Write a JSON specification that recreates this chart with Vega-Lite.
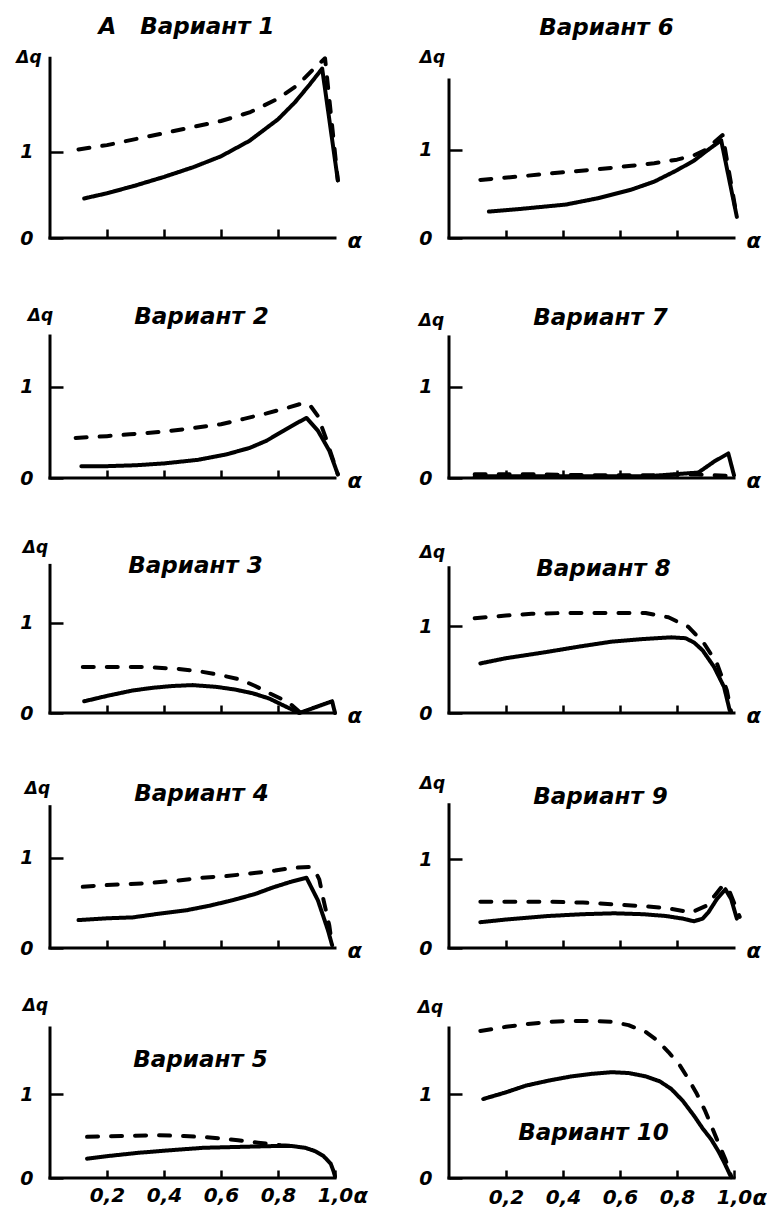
{
"$schema": "https://vega.github.io/schema/vega-lite/v6.json",
"background": "white",
"padding": {"left": 15, "top": 16, "right": 0, "bottom": 0},
"data": {"values": [
{"p":1,"s":"solid","x":0.12,"y":0.46},{"p":1,"s":"solid","x":0.2,"y":0.52},{"p":1,"s":"solid","x":0.3,"y":0.61},{"p":1,"s":"solid","x":0.4,"y":0.71},{"p":1,"s":"solid","x":0.5,"y":0.82},{"p":1,"s":"solid","x":0.6,"y":0.95},{"p":1,"s":"solid","x":0.7,"y":1.13},{"p":1,"s":"solid","x":0.8,"y":1.38},{"p":1,"s":"solid","x":0.86,"y":1.58},{"p":1,"s":"solid","x":0.91,"y":1.78},{"p":1,"s":"solid","x":0.955,"y":1.97},{"p":1,"s":"solid","x":1.01,"y":0.67},
{"p":1,"s":"dashed","x":0.1,"y":1.03},{"p":1,"s":"dashed","x":0.2,"y":1.08},{"p":1,"s":"dashed","x":0.3,"y":1.15},{"p":1,"s":"dashed","x":0.4,"y":1.22},{"p":1,"s":"dashed","x":0.5,"y":1.29},{"p":1,"s":"dashed","x":0.6,"y":1.36},{"p":1,"s":"dashed","x":0.7,"y":1.46},{"p":1,"s":"dashed","x":0.8,"y":1.62},{"p":1,"s":"dashed","x":0.87,"y":1.78},{"p":1,"s":"dashed","x":0.92,"y":1.95},{"p":1,"s":"dashed","x":0.965,"y":2.09},{"p":1,"s":"dashed","x":1.01,"y":0.67},
{"p":6,"s":"solid","x":0.14,"y":0.30},{"p":6,"s":"solid","x":0.25,"y":0.33},{"p":6,"s":"solid","x":0.41,"y":0.38},{"p":6,"s":"solid","x":0.52,"y":0.45},{"p":6,"s":"solid","x":0.64,"y":0.55},{"p":6,"s":"solid","x":0.72,"y":0.64},{"p":6,"s":"solid","x":0.8,"y":0.77},{"p":6,"s":"solid","x":0.86,"y":0.88},{"p":6,"s":"solid","x":0.9,"y":0.98},{"p":6,"s":"solid","x":0.955,"y":1.11},{"p":6,"s":"solid","x":1.01,"y":0.24},
{"p":6,"s":"dashed","x":0.11,"y":0.66},{"p":6,"s":"dashed","x":0.25,"y":0.70},{"p":6,"s":"dashed","x":0.41,"y":0.75},{"p":6,"s":"dashed","x":0.52,"y":0.78},{"p":6,"s":"dashed","x":0.64,"y":0.82},{"p":6,"s":"dashed","x":0.72,"y":0.85},{"p":6,"s":"dashed","x":0.8,"y":0.89},{"p":6,"s":"dashed","x":0.86,"y":0.94},{"p":6,"s":"dashed","x":0.9,"y":1.0},{"p":6,"s":"dashed","x":0.96,"y":1.17},{"p":6,"s":"dashed","x":1.01,"y":0.24},
{"p":2,"s":"solid","x":0.11,"y":0.13},{"p":2,"s":"solid","x":0.2,"y":0.13},{"p":2,"s":"solid","x":0.3,"y":0.14},{"p":2,"s":"solid","x":0.4,"y":0.16},{"p":2,"s":"solid","x":0.52,"y":0.20},{"p":2,"s":"solid","x":0.62,"y":0.26},{"p":2,"s":"solid","x":0.7,"y":0.33},{"p":2,"s":"solid","x":0.76,"y":0.41},{"p":2,"s":"solid","x":0.82,"y":0.52},{"p":2,"s":"solid","x":0.87,"y":0.61},{"p":2,"s":"solid","x":0.9,"y":0.66},{"p":2,"s":"solid","x":0.94,"y":0.52},{"p":2,"s":"solid","x":0.98,"y":0.30},{"p":2,"s":"solid","x":1.01,"y":0.04},
{"p":2,"s":"dashed","x":0.09,"y":0.44},{"p":2,"s":"dashed","x":0.2,"y":0.46},{"p":2,"s":"dashed","x":0.28,"y":0.48},{"p":2,"s":"dashed","x":0.4,"y":0.51},{"p":2,"s":"dashed","x":0.48,"y":0.54},{"p":2,"s":"dashed","x":0.6,"y":0.59},{"p":2,"s":"dashed","x":0.68,"y":0.65},{"p":2,"s":"dashed","x":0.76,"y":0.71},{"p":2,"s":"dashed","x":0.82,"y":0.76},{"p":2,"s":"dashed","x":0.875,"y":0.81},{"p":2,"s":"dashed","x":0.91,"y":0.81},{"p":2,"s":"dashed","x":0.94,"y":0.68},{"p":2,"s":"dashed","x":0.97,"y":0.42},{"p":2,"s":"dashed","x":1.01,"y":0.04},
{"p":7,"s":"solid","x":0.09,"y":0.02},{"p":7,"s":"solid","x":0.3,"y":0.02},{"p":7,"s":"solid","x":0.5,"y":0.02},{"p":7,"s":"solid","x":0.7,"y":0.02},{"p":7,"s":"solid","x":0.875,"y":0.06},{"p":7,"s":"solid","x":0.93,"y":0.18},{"p":7,"s":"solid","x":0.98,"y":0.27},{"p":7,"s":"solid","x":1.0,"y":0.03},
{"p":7,"s":"dashed","x":0.09,"y":0.04},{"p":7,"s":"dashed","x":0.3,"y":0.04},{"p":7,"s":"dashed","x":0.5,"y":0.03},{"p":7,"s":"dashed","x":0.7,"y":0.03},{"p":7,"s":"dashed","x":0.86,"y":0.04},{"p":7,"s":"dashed","x":1.0,"y":0.02},
{"p":3,"s":"solid","x":0.12,"y":0.13},{"p":3,"s":"solid","x":0.2,"y":0.19},{"p":3,"s":"solid","x":0.29,"y":0.25},{"p":3,"s":"solid","x":0.36,"y":0.28},{"p":3,"s":"solid","x":0.43,"y":0.30},{"p":3,"s":"solid","x":0.5,"y":0.31},{"p":3,"s":"solid","x":0.585,"y":0.29},{"p":3,"s":"solid","x":0.65,"y":0.26},{"p":3,"s":"solid","x":0.71,"y":0.22},{"p":3,"s":"solid","x":0.77,"y":0.16},{"p":3,"s":"solid","x":0.815,"y":0.09},{"p":3,"s":"solid","x":0.875,"y":0.0},{"p":3,"s":"solid","x":0.99,"y":0.13},{"p":3,"s":"solid","x":1.0,"y":0.0},
{"p":3,"s":"dashed","x":0.115,"y":0.51},{"p":3,"s":"dashed","x":0.2,"y":0.51},{"p":3,"s":"dashed","x":0.34,"y":0.51},{"p":3,"s":"dashed","x":0.45,"y":0.49},{"p":3,"s":"dashed","x":0.53,"y":0.46},{"p":3,"s":"dashed","x":0.6,"y":0.42},{"p":3,"s":"dashed","x":0.67,"y":0.37},{"p":3,"s":"dashed","x":0.72,"y":0.30},{"p":3,"s":"dashed","x":0.77,"y":0.22},{"p":3,"s":"dashed","x":0.81,"y":0.16},{"p":3,"s":"dashed","x":0.84,"y":0.11},{"p":3,"s":"dashed","x":0.88,"y":0.0},
{"p":8,"s":"solid","x":0.11,"y":0.57},{"p":8,"s":"solid","x":0.2,"y":0.63},{"p":8,"s":"solid","x":0.34,"y":0.70},{"p":8,"s":"solid","x":0.45,"y":0.76},{"p":8,"s":"solid","x":0.57,"y":0.82},{"p":8,"s":"solid","x":0.68,"y":0.85},{"p":8,"s":"solid","x":0.78,"y":0.87},{"p":8,"s":"solid","x":0.83,"y":0.86},{"p":8,"s":"solid","x":0.86,"y":0.81},{"p":8,"s":"solid","x":0.89,"y":0.72},{"p":8,"s":"solid","x":0.93,"y":0.53},{"p":8,"s":"solid","x":0.965,"y":0.30},{"p":8,"s":"solid","x":0.985,"y":0.03},
{"p":8,"s":"dashed","x":0.09,"y":1.09},{"p":8,"s":"dashed","x":0.2,"y":1.12},{"p":8,"s":"dashed","x":0.29,"y":1.14},{"p":8,"s":"dashed","x":0.4,"y":1.15},{"p":8,"s":"dashed","x":0.5,"y":1.15},{"p":8,"s":"dashed","x":0.6,"y":1.15},{"p":8,"s":"dashed","x":0.69,"y":1.15},{"p":8,"s":"dashed","x":0.77,"y":1.10},{"p":8,"s":"dashed","x":0.84,"y":0.99},{"p":8,"s":"dashed","x":0.895,"y":0.80},{"p":8,"s":"dashed","x":0.94,"y":0.57},{"p":8,"s":"dashed","x":0.975,"y":0.26},{"p":8,"s":"dashed","x":0.99,"y":0.01},
{"p":4,"s":"solid","x":0.1,"y":0.31},{"p":4,"s":"solid","x":0.2,"y":0.33},{"p":4,"s":"solid","x":0.29,"y":0.34},{"p":4,"s":"solid","x":0.38,"y":0.38},{"p":4,"s":"solid","x":0.48,"y":0.42},{"p":4,"s":"solid","x":0.56,"y":0.47},{"p":4,"s":"solid","x":0.64,"y":0.53},{"p":4,"s":"solid","x":0.72,"y":0.60},{"p":4,"s":"solid","x":0.78,"y":0.67},{"p":4,"s":"solid","x":0.85,"y":0.74},{"p":4,"s":"solid","x":0.9,"y":0.78},{"p":4,"s":"solid","x":0.94,"y":0.53},{"p":4,"s":"solid","x":0.975,"y":0.2},{"p":4,"s":"solid","x":0.99,"y":0.03},
{"p":4,"s":"dashed","x":0.115,"y":0.68},{"p":4,"s":"dashed","x":0.2,"y":0.70},{"p":4,"s":"dashed","x":0.34,"y":0.72},{"p":4,"s":"dashed","x":0.45,"y":0.75},{"p":4,"s":"dashed","x":0.53,"y":0.78},{"p":4,"s":"dashed","x":0.62,"y":0.80},{"p":4,"s":"dashed","x":0.71,"y":0.83},{"p":4,"s":"dashed","x":0.79,"y":0.86},{"p":4,"s":"dashed","x":0.85,"y":0.89},{"p":4,"s":"dashed","x":0.91,"y":0.90},{"p":4,"s":"dashed","x":0.93,"y":0.86},{"p":4,"s":"dashed","x":0.945,"y":0.76},{"p":4,"s":"dashed","x":0.96,"y":0.53},{"p":4,"s":"dashed","x":0.98,"y":0.25},{"p":4,"s":"dashed","x":0.99,"y":0.03},
{"p":9,"s":"solid","x":0.11,"y":0.29},{"p":9,"s":"solid","x":0.2,"y":0.32},{"p":9,"s":"solid","x":0.35,"y":0.36},{"p":9,"s":"solid","x":0.47,"y":0.38},{"p":9,"s":"solid","x":0.58,"y":0.39},{"p":9,"s":"solid","x":0.68,"y":0.38},{"p":9,"s":"solid","x":0.76,"y":0.36},{"p":9,"s":"solid","x":0.82,"y":0.33},{"p":9,"s":"solid","x":0.86,"y":0.30},{"p":9,"s":"solid","x":0.89,"y":0.33},{"p":9,"s":"solid","x":0.91,"y":0.40},{"p":9,"s":"solid","x":0.94,"y":0.55},{"p":9,"s":"solid","x":0.97,"y":0.66},{"p":9,"s":"solid","x":0.99,"y":0.55},{"p":9,"s":"solid","x":1.01,"y":0.33},
{"p":9,"s":"dashed","x":0.11,"y":0.52},{"p":9,"s":"dashed","x":0.2,"y":0.52},{"p":9,"s":"dashed","x":0.35,"y":0.52},{"p":9,"s":"dashed","x":0.47,"y":0.51},{"p":9,"s":"dashed","x":0.58,"y":0.49},{"p":9,"s":"dashed","x":0.68,"y":0.47},{"p":9,"s":"dashed","x":0.76,"y":0.45},{"p":9,"s":"dashed","x":0.85,"y":0.40},{"p":9,"s":"dashed","x":0.9,"y":0.47},{"p":9,"s":"dashed","x":0.93,"y":0.58},{"p":9,"s":"dashed","x":0.96,"y":0.70},{"p":9,"s":"dashed","x":0.985,"y":0.63},{"p":9,"s":"dashed","x":1.02,"y":0.35},
{"p":5,"s":"solid","x":0.13,"y":0.23},{"p":5,"s":"solid","x":0.2,"y":0.26},{"p":5,"s":"solid","x":0.31,"y":0.30},{"p":5,"s":"solid","x":0.42,"y":0.33},{"p":5,"s":"solid","x":0.54,"y":0.36},{"p":5,"s":"solid","x":0.66,"y":0.37},{"p":5,"s":"solid","x":0.78,"y":0.38},{"p":5,"s":"solid","x":0.85,"y":0.38},{"p":5,"s":"solid","x":0.895,"y":0.36},{"p":5,"s":"solid","x":0.93,"y":0.32},{"p":5,"s":"solid","x":0.96,"y":0.26},{"p":5,"s":"solid","x":0.985,"y":0.17},{"p":5,"s":"solid","x":0.995,"y":0.08},{"p":5,"s":"solid","x":1.0,"y":0.02},
{"p":5,"s":"dashed","x":0.13,"y":0.49},{"p":5,"s":"dashed","x":0.25,"y":0.50},{"p":5,"s":"dashed","x":0.37,"y":0.51},{"p":5,"s":"dashed","x":0.47,"y":0.50},{"p":5,"s":"dashed","x":0.57,"y":0.48},{"p":5,"s":"dashed","x":0.66,"y":0.45},{"p":5,"s":"dashed","x":0.73,"y":0.42},{"p":5,"s":"dashed","x":0.81,"y":0.39},{"p":5,"s":"dashed","x":0.87,"y":0.38},
{"p":10,"s":"solid","x":0.12,"y":0.94},{"p":10,"s":"solid","x":0.2,"y":1.02},{"p":10,"s":"solid","x":0.27,"y":1.10},{"p":10,"s":"solid","x":0.35,"y":1.16},{"p":10,"s":"solid","x":0.43,"y":1.21},{"p":10,"s":"solid","x":0.5,"y":1.24},{"p":10,"s":"solid","x":0.57,"y":1.26},{"p":10,"s":"solid","x":0.63,"y":1.25},{"p":10,"s":"solid","x":0.69,"y":1.21},{"p":10,"s":"solid","x":0.74,"y":1.15},{"p":10,"s":"solid","x":0.78,"y":1.06},{"p":10,"s":"solid","x":0.82,"y":0.92},{"p":10,"s":"solid","x":0.86,"y":0.74},{"p":10,"s":"solid","x":0.89,"y":0.59},{"p":10,"s":"solid","x":0.92,"y":0.46},{"p":10,"s":"solid","x":0.945,"y":0.32},{"p":10,"s":"solid","x":0.965,"y":0.19},{"p":10,"s":"solid","x":0.99,"y":0.01},
{"p":10,"s":"dashed","x":0.11,"y":1.75},{"p":10,"s":"dashed","x":0.2,"y":1.80},{"p":10,"s":"dashed","x":0.27,"y":1.83},{"p":10,"s":"dashed","x":0.35,"y":1.86},{"p":10,"s":"dashed","x":0.43,"y":1.87},{"p":10,"s":"dashed","x":0.5,"y":1.87},{"p":10,"s":"dashed","x":0.57,"y":1.86},{"p":10,"s":"dashed","x":0.63,"y":1.82},{"p":10,"s":"dashed","x":0.69,"y":1.74},{"p":10,"s":"dashed","x":0.73,"y":1.64},{"p":10,"s":"dashed","x":0.77,"y":1.50},{"p":10,"s":"dashed","x":0.81,"y":1.34},{"p":10,"s":"dashed","x":0.84,"y":1.18},{"p":10,"s":"dashed","x":0.87,"y":1.0},{"p":10,"s":"dashed","x":0.9,"y":0.79},{"p":10,"s":"dashed","x":0.94,"y":0.46},{"p":10,"s":"dashed","x":0.97,"y":0.22},{"p":10,"s":"dashed","x":0.99,"y":0.02}
]},
"columns": 2,
"spacing": {"row": 80, "column": 114},
"bounds": "flush",
"align": "each",
"concat": [
{"width":285,"height":180,"title":{"text":"А\u00a0\u00a0\u00a0Вариант 1","dx":-6,"dy":-5},
 "layer":[
  {"transform":[{"filter":"datum.p == 1"}],"mark":{"type":"line","color":"black","strokeWidth":4,"strokeCap":"round","strokeJoin":"round"},
   "encoding":{
    "x":{"field":"x","type":"quantitative","scale":{"domain":[0,1],"nice":false},"axis":{"values":[0.2,0.4,0.6,0.8],"labels":false,"domain":false,"offset":-9,"tickSize":9,"title":"α","titleX":297,"titleY":18,"titleAlign":"left","titleBaseline":"alphabetic","titleFontSize":21}},
    "y":{"field":"y","type":"quantitative","scale":{"domain":[0,2.093],"nice":false},"axis":{"values":[0,1],"format":"d","domain":false,"offset":-13,"tickSize":13,"labelPadding":17,"labelFontSize":19,"title":"Δq","titleAngle":0,"titleX":-34.5,"titleY":4,"titleAlign":"center","titleBaseline":"alphabetic","titleFontSize":17}},
    "strokeDash":{"field":"s","type":"nominal","scale":{"domain":["solid","dashed"],"range":[[1,0],[11,13]]},"legend":null}}},
  {"data":{"values":[{}]},"mark":{"type":"rule","color":"black","strokeWidth":3,"strokeCap":"square"},
   "encoding":{"x":{"datum":0},"y":{"datum":0},"y2":{"datum":2.09}}},
  {"data":{"values":[{}]},"mark":{"type":"rule","color":"black","strokeWidth":3,"strokeCap":"square"},
   "encoding":{"x":{"datum":0},"x2":{"datum":1},"y":{"datum":0}}}
 ]},
{"width":285,"height":180,"title":{"text":"Вариант 6","dx":15,"dy":-4},
 "layer":[
  {"transform":[{"filter":"datum.p == 6"}],"mark":{"type":"line","color":"black","strokeWidth":4,"strokeCap":"round","strokeJoin":"round"},
   "encoding":{
    "x":{"field":"x","type":"quantitative","scale":{"domain":[0,1],"nice":false},"axis":{"values":[0.2,0.4,0.6,0.8],"labels":false,"domain":false,"offset":-8,"tickSize":8,"title":"α","titleX":297,"titleY":17,"titleAlign":"left","titleBaseline":"alphabetic","titleFontSize":21}},
    "y":{"field":"y","type":"quantitative","scale":{"domain":[0,2.045],"nice":false},"axis":{"values":[0,1],"format":"d","domain":false,"offset":-13,"tickSize":13,"labelPadding":17,"labelFontSize":19,"title":"Δq","titleAngle":0,"titleX":-30,"titleY":4,"titleAlign":"center","titleBaseline":"alphabetic","titleFontSize":17}},
    "strokeDash":{"field":"s","type":"nominal","scale":{"domain":["solid","dashed"],"range":[[1,0],[11,13]]},"legend":null}}},
  {"data":{"values":[{}]},"mark":{"type":"rule","color":"black","strokeWidth":3,"strokeCap":"square"},
   "encoding":{"x":{"datum":0},"y":{"datum":0},"y2":{"datum":1.795}}},
  {"data":{"values":[{}]},"mark":{"type":"rule","color":"black","strokeWidth":3,"strokeCap":"square"},
   "encoding":{"x":{"datum":0},"x2":{"datum":1},"y":{"datum":0}}}
 ]},
{"width":285,"height":160,"title":{"text":"Вариант 2","dx":9,"dy":27},
 "layer":[
  {"transform":[{"filter":"datum.p == 2"}],"mark":{"type":"line","color":"black","strokeWidth":4,"strokeCap":"round","strokeJoin":"round"},
   "encoding":{
    "x":{"field":"x","type":"quantitative","scale":{"domain":[0,1],"nice":false},"axis":{"values":[0.2,0.4,0.6,0.8],"labels":false,"domain":false,"offset":-8,"tickSize":8,"title":"α","titleX":297,"titleY":17,"titleAlign":"left","titleBaseline":"alphabetic","titleFontSize":21}},
    "y":{"field":"y","type":"quantitative","scale":{"domain":[0,1.758],"nice":false},"axis":{"values":[0,1],"format":"d","domain":false,"offset":-13,"tickSize":13,"labelPadding":17,"labelFontSize":19,"title":"Δq","titleAngle":0,"titleX":-23,"titleY":2,"titleAlign":"center","titleBaseline":"alphabetic","titleFontSize":17}},
    "strokeDash":{"field":"s","type":"nominal","scale":{"domain":["solid","dashed"],"range":[[1,0],[11,13]]},"legend":null}}},
  {"data":{"values":[{}]},"mark":{"type":"rule","color":"black","strokeWidth":3,"strokeCap":"square"},
   "encoding":{"x":{"datum":0},"y":{"datum":0},"y2":{"datum":1.56}}},
  {"data":{"values":[{}]},"mark":{"type":"rule","color":"black","strokeWidth":3,"strokeCap":"square"},
   "encoding":{"x":{"datum":0},"x2":{"datum":1},"y":{"datum":0}}}
 ]},
{"width":285,"height":160,"title":{"text":"Вариант 7","dx":9,"dy":23},
 "layer":[
  {"transform":[{"filter":"datum.p == 7"}],"mark":{"type":"line","color":"black","strokeWidth":4,"strokeCap":"round","strokeJoin":"round"},
   "encoding":{
    "x":{"field":"x","type":"quantitative","scale":{"domain":[0,1],"nice":false},"axis":{"values":[0.2,0.4,0.6,0.8],"labels":false,"domain":false,"offset":-8,"tickSize":8,"title":"α","titleX":297,"titleY":17,"titleAlign":"left","titleBaseline":"alphabetic","titleFontSize":21}},
    "y":{"field":"y","type":"quantitative","scale":{"domain":[0,1.758],"nice":false},"axis":{"values":[0,1],"format":"d","domain":false,"offset":-13,"tickSize":13,"labelPadding":17,"labelFontSize":19,"title":"Δq","titleAngle":0,"titleX":-31,"titleY":7,"titleAlign":"center","titleBaseline":"alphabetic","titleFontSize":17}},
    "strokeDash":{"field":"s","type":"nominal","scale":{"domain":["solid","dashed"],"range":[[1,0],[11,13]]},"legend":null}}},
  {"data":{"values":[{}]},"mark":{"type":"rule","color":"black","strokeWidth":3,"strokeCap":"square"},
   "encoding":{"x":{"datum":0},"y":{"datum":0},"y2":{"datum":1.55}}},
  {"data":{"values":[{}]},"mark":{"type":"rule","color":"black","strokeWidth":3,"strokeCap":"square"},
   "encoding":{"x":{"datum":0},"x2":{"datum":1},"y":{"datum":0}}}
 ]},
{"width":285,"height":155,"title":{"text":"Вариант 3","dx":3,"dy":44},
 "layer":[
  {"transform":[{"filter":"datum.p == 3"}],"mark":{"type":"line","color":"black","strokeWidth":4,"strokeCap":"round","strokeJoin":"round"},
   "encoding":{
    "x":{"field":"x","type":"quantitative","scale":{"domain":[0,1],"nice":false},"axis":{"values":[0.2,0.4,0.6,0.8],"labels":false,"domain":false,"offset":-8,"tickSize":8,"title":"α","titleX":297,"titleY":17,"titleAlign":"left","titleBaseline":"alphabetic","titleFontSize":21}},
    "y":{"field":"y","type":"quantitative","scale":{"domain":[0,1.722],"nice":false},"axis":{"values":[0,1],"format":"d","domain":false,"offset":-13,"tickSize":13,"labelPadding":17,"labelFontSize":19,"title":"Δq","titleAngle":0,"titleX":-28,"titleY":-6,"titleAlign":"center","titleBaseline":"alphabetic","titleFontSize":17}},
    "strokeDash":{"field":"s","type":"nominal","scale":{"domain":["solid","dashed"],"range":[[1,0],[11,13]]},"legend":null}}},
  {"data":{"values":[{}]},"mark":{"type":"rule","color":"black","strokeWidth":3,"strokeCap":"square"},
   "encoding":{"x":{"datum":0},"y":{"datum":0},"y2":{"datum":1.64}}},
  {"data":{"values":[{}]},"mark":{"type":"rule","color":"black","strokeWidth":3,"strokeCap":"square"},
   "encoding":{"x":{"datum":0},"x2":{"datum":1},"y":{"datum":0}}}
 ]},
{"width":285,"height":155,"title":{"text":"Вариант 8","dx":12,"dy":42},
 "layer":[
  {"transform":[{"filter":"datum.p == 8"}],"mark":{"type":"line","color":"black","strokeWidth":4,"strokeCap":"round","strokeJoin":"round"},
   "encoding":{
    "x":{"field":"x","type":"quantitative","scale":{"domain":[0,1],"nice":false},"axis":{"values":[0.2,0.4,0.6,0.8],"labels":false,"domain":false,"offset":-8,"tickSize":8,"title":"α","titleX":297,"titleY":17,"titleAlign":"left","titleBaseline":"alphabetic","titleFontSize":21}},
    "y":{"field":"y","type":"quantitative","scale":{"domain":[0,1.782],"nice":false},"axis":{"values":[0,1],"format":"d","domain":false,"offset":-13,"tickSize":13,"labelPadding":17,"labelFontSize":19,"title":"Δq","titleAngle":0,"titleX":-30,"titleY":-1,"titleAlign":"center","titleBaseline":"alphabetic","titleFontSize":17}},
    "strokeDash":{"field":"s","type":"nominal","scale":{"domain":["solid","dashed"],"range":[[1,0],[11,13]]},"legend":null}}},
  {"data":{"values":[{}]},"mark":{"type":"rule","color":"black","strokeWidth":3,"strokeCap":"square"},
   "encoding":{"x":{"datum":0},"y":{"datum":0},"y2":{"datum":1.67}}},
  {"data":{"values":[{}]},"mark":{"type":"rule","color":"black","strokeWidth":3,"strokeCap":"square"},
   "encoding":{"x":{"datum":0},"x2":{"datum":1},"y":{"datum":0}}}
 ]},
{"width":285,"height":155,"title":{"text":"Вариант 4","dx":9,"dy":31},
 "layer":[
  {"transform":[{"filter":"datum.p == 4"}],"mark":{"type":"line","color":"black","strokeWidth":4,"strokeCap":"round","strokeJoin":"round"},
   "encoding":{
    "x":{"field":"x","type":"quantitative","scale":{"domain":[0,1],"nice":false},"axis":{"values":[0.2,0.4,0.6,0.8],"labels":false,"domain":false,"offset":-8,"tickSize":8,"title":"α","titleX":297,"titleY":17,"titleAlign":"left","titleBaseline":"alphabetic","titleFontSize":21}},
    "y":{"field":"y","type":"quantitative","scale":{"domain":[0,1.722],"nice":false},"axis":{"values":[0,1],"format":"d","domain":false,"offset":-13,"tickSize":13,"labelPadding":17,"labelFontSize":19,"title":"Δq","titleAngle":0,"titleX":-26,"titleY":0,"titleAlign":"center","titleBaseline":"alphabetic","titleFontSize":17}},
    "strokeDash":{"field":"s","type":"nominal","scale":{"domain":["solid","dashed"],"range":[[1,0],[11,13]]},"legend":null}}},
  {"data":{"values":[{}]},"mark":{"type":"rule","color":"black","strokeWidth":3,"strokeCap":"square"},
   "encoding":{"x":{"datum":0},"y":{"datum":0},"y2":{"datum":1.57}}},
  {"data":{"values":[{}]},"mark":{"type":"rule","color":"black","strokeWidth":3,"strokeCap":"square"},
   "encoding":{"x":{"datum":0},"x2":{"datum":1},"y":{"datum":0}}}
 ]},
{"width":285,"height":155,"title":{"text":"Вариант 9","dx":9,"dy":39},
 "layer":[
  {"transform":[{"filter":"datum.p == 9"}],"mark":{"type":"line","color":"black","strokeWidth":4,"strokeCap":"round","strokeJoin":"round"},
   "encoding":{
    "x":{"field":"x","type":"quantitative","scale":{"domain":[0,1],"nice":false},"axis":{"values":[0.2,0.4,0.6,0.8],"labels":false,"domain":false,"offset":-8,"tickSize":8,"title":"α","titleX":297,"titleY":17,"titleAlign":"left","titleBaseline":"alphabetic","titleFontSize":21}},
    "y":{"field":"y","type":"quantitative","scale":{"domain":[0,1.742],"nice":false},"axis":{"values":[0,1],"format":"d","domain":false,"offset":-13,"tickSize":13,"labelPadding":17,"labelFontSize":19,"title":"Δq","titleAngle":0,"titleX":-30,"titleY":-5,"titleAlign":"center","titleBaseline":"alphabetic","titleFontSize":17}},
    "strokeDash":{"field":"s","type":"nominal","scale":{"domain":["solid","dashed"],"range":[[1,0],[11,13]]},"legend":null}}},
  {"data":{"values":[{}]},"mark":{"type":"rule","color":"black","strokeWidth":3,"strokeCap":"square"},
   "encoding":{"x":{"datum":0},"y":{"datum":0},"y2":{"datum":1.61}}},
  {"data":{"values":[{}]},"mark":{"type":"rule","color":"black","strokeWidth":3,"strokeCap":"square"},
   "encoding":{"x":{"datum":0},"x2":{"datum":1},"y":{"datum":0}}}
 ]},
{"width":285,"height":150,"title":{"text":"Вариант 5","dx":8,"dy":80},
 "layer":[
  {"transform":[{"filter":"datum.p == 5"}],"mark":{"type":"line","color":"black","strokeWidth":4,"strokeCap":"round","strokeJoin":"round"},
   "encoding":{
    "x":{"field":"x","type":"quantitative","scale":{"domain":[0,1],"nice":false},"axis":{"values":[0.2,0.4,0.6,0.8,1.0],"labelExpr":"replace(format(datum.value, '.1f'), '.', ',')","labelFontSize":20,"labelPadding":7,"labelFlush":false,"labelOverlap":false,"domain":false,"offset":-8,"tickSize":8,"title":"α","titleX":303,"titleY":32,"titleAlign":"left","titleBaseline":"alphabetic","titleFontSize":21}},
    "y":{"field":"y","type":"quantitative","scale":{"domain":[0,1.786],"nice":false},"axis":{"values":[0,1],"format":"d","domain":false,"offset":-13,"tickSize":13,"labelPadding":17,"labelFontSize":19,"title":"Δq","titleAngle":0,"titleX":-28,"titleY":-18,"titleAlign":"center","titleBaseline":"alphabetic","titleFontSize":17}},
    "strokeDash":{"field":"s","type":"nominal","scale":{"domain":["solid","dashed"],"range":[[1,0],[11,13]]},"legend":null}}},
  {"data":{"values":[{}]},"mark":{"type":"rule","color":"black","strokeWidth":3,"strokeCap":"square"},
   "encoding":{"x":{"datum":0},"y":{"datum":0},"y2":{"datum":1.786}}},
  {"data":{"values":[{}]},"mark":{"type":"rule","color":"black","strokeWidth":3,"strokeCap":"square"},
   "encoding":{"x":{"datum":0},"x2":{"datum":1},"y":{"datum":0}}}
 ]},
{"width":285,"height":150,"title":{"text":"Вариант 10","dx":2,"dy":151},
 "layer":[
  {"transform":[{"filter":"datum.p == 10"}],"mark":{"type":"line","color":"black","strokeWidth":4,"strokeCap":"round","strokeJoin":"round"},
   "encoding":{
    "x":{"field":"x","type":"quantitative","scale":{"domain":[0,1],"nice":false},"axis":{"values":[0.2,0.4,0.6,0.8,1.0],"labelExpr":"replace(format(datum.value, '.1f'), '.', ',')","labelFontSize":20,"labelPadding":9,"labelFlush":false,"labelOverlap":false,"domain":false,"offset":-8,"tickSize":8,"title":"α","titleX":303,"titleY":34,"titleAlign":"left","titleBaseline":"alphabetic","titleFontSize":21}},
    "y":{"field":"y","type":"quantitative","scale":{"domain":[0,1.786],"nice":false},"axis":{"values":[0,1],"format":"d","domain":false,"offset":-13,"tickSize":13,"labelPadding":17,"labelFontSize":19,"title":"Δq","titleAngle":0,"titleX":-32,"titleY":-16,"titleAlign":"center","titleBaseline":"alphabetic","titleFontSize":17}},
    "strokeDash":{"field":"s","type":"nominal","scale":{"domain":["solid","dashed"],"range":[[1,0],[11,13]]},"legend":null}}},
  {"data":{"values":[{}]},"mark":{"type":"rule","color":"black","strokeWidth":3,"strokeCap":"square"},
   "encoding":{"x":{"datum":0},"y":{"datum":0},"y2":{"datum":1.786}}},
  {"data":{"values":[{}]},"mark":{"type":"rule","color":"black","strokeWidth":3,"strokeCap":"square"},
   "encoding":{"x":{"datum":0},"x2":{"datum":1},"y":{"datum":0}}}
 ]}
],
"config": {
 "view": {"stroke": null},
 "font": "DejaVu Sans",
 "axis": {"grid": false, "domainColor": "black", "domainWidth": 3, "tickColor": "black", "tickWidth": 2.5, "labelColor": "black", "labelFont": "DejaVu Sans", "labelFontWeight": "bold", "labelFontStyle": "italic", "titleColor": "black", "titleFont": "DejaVu Sans", "titleFontWeight": "bold", "titleFontStyle": "italic", "labelFlush": false},
 "title": {"font": "DejaVu Sans", "fontSize": 23, "fontWeight": "bold", "fontStyle": "italic", "color": "black", "offset": 0, "anchor": "middle", "frame": "group"}
}
}
